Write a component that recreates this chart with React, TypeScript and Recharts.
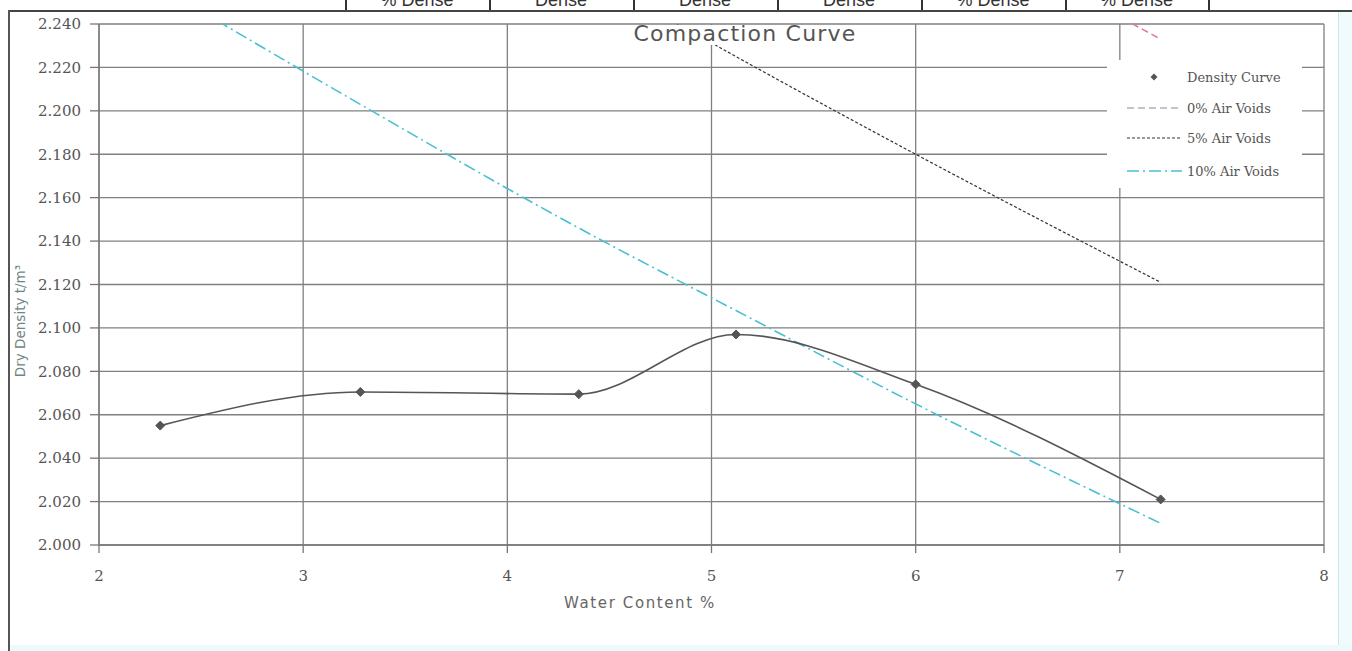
import React from "react";
import { ComposedChart, Line, XAxis, YAxis, CartesianGrid, Legend } from "recharts";

// ---- data ----
const waterContent = [2.3, 3.28, 4.35, 5.12, 6.0, 7.2];
const dryDensity = [2.055, 2.0705, 2.0695, 2.097, 2.074, 2.021];
const airVoids0 = [2.508, 2.447, 2.385, 2.342, 2.295, 2.233];
const airVoids5 = [2.382, 2.325, 2.266, 2.225, 2.18, 2.121];
const airVoids10 = [2.257, 2.203, 2.146, 2.108, 2.065, 2.01];
const xTicks = [2, 3, 4, 5, 6, 7, 8];
const yTicks = [2.0, 2.02, 2.04, 2.06, 2.08, 2.1, 2.12, 2.14, 2.16, 2.18, 2.2, 2.22, 2.24];
const headerCells = ["% Dense", "Dense", "Dense", "Dense", "% Dense", "% Dense"];
const headerEdges = [345, 489, 633, 777, 921, 1065, 1208];
const seriesNames = ["Density Curve", "0% Air Voids", "5% Air Voids", "10% Air Voids"];

const rows = waterContent.map((w, i) => ({
  w,
  density: dryDensity[i],
  v0: airVoids0[i],
  v5: airVoids5[i],
  v10: airVoids10[i],
}));

const Diamond = (props: any) => {
  const { cx, cy } = props;
  if (cx == null || cy == null) return null;
  const r = 4.5;
  return (
    <polygon
      points={`${cx},${cy - r} ${cx + r},${cy} ${cx},${cy + r} ${cx - r},${cy}`}
      fill="#555"
      stroke="#555"
    />
  );
};

const LegendBox = () => {
  const ys = [17, 48, 78, 111];
  return (
    <svg width={195} height={128} style={{ display: "block", background: "#fff" }}>
      <rect x={0} y={0} width={195} height={128} fill="#fff" />
      <polygon points={`47,${ys[0] - 3.5} 50.5,${ys[0]} 47,${ys[0] + 3.5} 43.5,${ys[0]}`} fill="#555" />
      <line x1={20} x2={75} y1={ys[1]} y2={ys[1]} stroke="#a9b3bf" strokeWidth={1.5} strokeDasharray="7 4" />
      <line x1={20} x2={75} y1={ys[2]} y2={ys[2]} stroke="#333" strokeWidth={1.2} strokeDasharray="3 2" />
      <line x1={20} x2={75} y1={ys[3]} y2={ys[3]} stroke="#49bfd3" strokeWidth={1.5} strokeDasharray="12 4 2 4" />
      {seriesNames.map((n, i) => (
        <text key={n} x={80} y={ys[i] + 4.5} fontFamily="'DejaVu Serif'" fontSize={13} fill="#555">
          {n}
        </text>
      ))}
    </svg>
  );
};

export default function App() {
  return (
    <div
      style={{
        position: "absolute",
        left: 0,
        top: 0,
        width: 1352,
        height: 651,
        background: "#fff",
        overflow: "hidden",
        fontFamily: "'DejaVu Sans'",
      }}
    >
      {/* header table remnants */}
      {headerEdges.map((x) => (
        <div key={x} style={{ position: "absolute", left: x, top: 0, width: 2, height: 11, background: "#333" }} />
      ))}
      {headerCells.map((t, i) => (
        <div
          key={i}
          style={{
            position: "absolute",
            left: headerEdges[i],
            top: -9,
            width: headerEdges[i + 1] - headerEdges[i],
            height: 18,
            lineHeight: "18px",
            textAlign: "center",
            fontFamily: "'Liberation Sans'",
            fontSize: 18,
            color: "#333",
            clipPath: "inset(9px 0 0 0)",
          }}
        >
          {t}
        </div>
      ))}
      <div style={{ position: "absolute", left: 8, right: 0, top: 10, height: 2, background: "#444" }} />
      <div style={{ position: "absolute", left: 8, top: 10, width: 2, bottom: 0, background: "#555" }} />
      <div style={{ position: "absolute", left: 1338, top: 12, width: 14, bottom: 0, background: "#f1fafc" }} />
      <div style={{ position: "absolute", left: 1338, top: 12, width: 1, bottom: 0, background: "#c7e9ef" }} />
      <div style={{ position: "absolute", left: 10, right: 0, top: 645, height: 6, background: "#eef9fb" }} />

      <div style={{ position: "absolute", left: 0, top: 0 }}>
        <ComposedChart width={1352} height={651} data={rows} margin={{ top: 24, right: 28, bottom: 66, left: 8 }}>
          <CartesianGrid stroke="#808080" strokeWidth={1.3} />
          <XAxis
            dataKey="w"
            type="number"
            domain={[2, 8]}
            ticks={xTicks}
            height={40}
            tickSize={8}
            tickMargin={17}
            axisLine={{ stroke: "#777", strokeWidth: 1.3 }}
            tickLine={{ stroke: "#777", strokeWidth: 1.3 }}
            tick={{ fill: "#555", fontSize: 15, fontFamily: "'DejaVu Serif'" }}
          />
          <YAxis
            type="number"
            domain={[2.0, 2.24]}
            allowDataOverflow
            ticks={yTicks}
            width={91}
            tickSize={9}
            tickMargin={9}
            tickFormatter={(v: number) => v.toFixed(3)}
            axisLine={{ stroke: "#777", strokeWidth: 1.3 }}
            tickLine={{ stroke: "#777", strokeWidth: 1.3 }}
            tick={{ fill: "#555", fontSize: 15, fontFamily: "'DejaVu Serif'" }}
          />
          <Legend
            layout="vertical"
            align="center"
            verticalAlign="middle"
            content={() => <LegendBox />}
            wrapperStyle={{ position: "absolute", left: 1107, top: 60, width: 195, height: 128 }}
          />
          <Line
            name={seriesNames[2]}
            dataKey="v5"
            type="monotone"
            stroke="#333"
            strokeWidth={1.2}
            strokeDasharray="3 2"
            dot={false}
            isAnimationActive={false}
          />
          <Line
            name={seriesNames[1]}
            dataKey="v0"
            type="monotone"
            stroke="#e27b8e"
            strokeWidth={1.5}
            strokeDasharray="7 4"
            dot={false}
            isAnimationActive={false}
          />
          <Line
            name={seriesNames[3]}
            dataKey="v10"
            type="monotone"
            stroke="#49bfd3"
            strokeWidth={1.6}
            strokeDasharray="12 4 2 4"
            dot={false}
            isAnimationActive={false}
          />
          <Line
            name={seriesNames[0]}
            dataKey="density"
            type="monotone"
            stroke="#555"
            strokeWidth={1.6}
            dot={<Diamond />}
            isAnimationActive={false}
          />
        </ComposedChart>
      </div>

      {/* title */}
      <div
        style={{
          position: "absolute",
          left: 622,
          top: 25,
          width: 246,
          height: 20,
          background: "#fff",
          lineHeight: "18px",
          textAlign: "center",
          fontSize: 22,
          letterSpacing: 1.2,
          color: "#555",
          whiteSpace: "nowrap",
        }}
      >
        Compaction Curve
      </div>
      {/* x label */}
      <div
        style={{
          position: "absolute",
          left: 640,
          top: 603,
          transform: "translate(-50%, -50%)",
          fontSize: 15,
          letterSpacing: 1.6,
          color: "#666",
          whiteSpace: "nowrap",
        }}
      >
        Water Content %
      </div>
      {/* y label */}
      <div
        style={{
          position: "absolute",
          left: 20,
          top: 321,
          transform: "translate(-50%, -50%) rotate(-90deg)",
          fontSize: 13.5,
          color: "#6f8583",
          whiteSpace: "nowrap",
        }}
      >
        Dry Density t/m³
      </div>
    </div>
  );
}
